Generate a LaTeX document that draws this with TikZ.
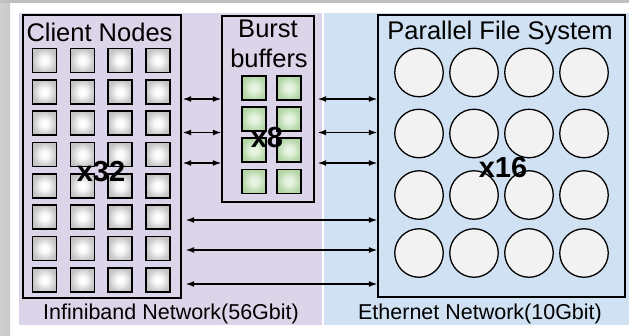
\documentclass[tikz,border=0pt]{standalone}
\usepackage{fontspec}
\setmainfont{Liberation Sans}
\usetikzlibrary{arrows.meta}

\definecolor{ibfill}{RGB}{220,212,232}
\definecolor{ethfill}{RGB}{207,225,242}
\definecolor{diskfill}{RGB}{242,242,242}
\definecolor{framegray}{RGB}{192,192,192}
\definecolor{shadowgray}{RGB}{208,208,208}

% soft glow inside the node squares
\pgfdeclareradialshading{cellglow}{\pgfpoint{0bp}{0bp}}{%
  rgb(0bp)=(1,1,1); rgb(8bp)=(0.98,0.98,0.98);
  rgb(25bp)=(0.77,0.77,0.77); rgb(50bp)=(0.77,0.77,0.77)}
\pgfdeclareradialshading{bbglow}{\pgfpoint{0bp}{0bp}}{%
  rgb(0bp)=(0.92,0.965,0.90); rgb(8bp)=(0.89,0.95,0.87);
  rgb(25bp)=(0.70,0.835,0.645); rgb(50bp)=(0.70,0.835,0.645)}

\begin{document}
\begin{tikzpicture}[x=1pt,y=-1pt,
  box/.style={draw=black, line width=1.3pt, inner sep=0pt},
  cell/.style={draw=black, line width=1.6pt, minimum size=24pt, inner sep=0pt,
               shading=cellglow},
  bbcell/.style={cell, shading=bbglow},
  disk/.style={circle, draw=black, line width=1.3pt, minimum size=48.5pt,
               inner sep=0pt, fill=diskfill},
  title/.style={font=\fontsize{25.5}{30}\selectfont, anchor=base, inner sep=0pt},
  net/.style={font=\fontsize{21.5}{26}\selectfont, anchor=base, inner sep=0pt},
  count/.style={font=\bfseries\fontsize{29}{33}\selectfont, anchor=base, inner sep=0pt},
  link/.style={line width=1.4pt, {Latex[length=8.5pt,width=6pt]}-{Latex[length=8.5pt,width=6pt]}}
]
\useasboundingbox (0,0) rectangle (629,335);

% page frame and shadow
\fill[white] (0,0) rectangle (629,335);
\fill[framegray] (0,0) rectangle (629,3);
\shade[left color=shadowgray, right color=framegray!85] (0,3) rectangle (10,335);

% network regions
\fill[ibfill] (19,13) rectangle (322,325);
\fill[ethfill] (324,13) rectangle (629,325);

% containers
\node[box, minimum width=158pt, minimum height=283pt] (client) at (102,156.5) {};
\node[box, minimum width=92pt, minimum height=186pt] (burst) at (268,109) {};
\node[box, minimum width=247pt, minimum height=282pt] (pfs) at (501.5,156) {};

% titles
\node[title] (tclient) at (99.5,41.5) {Client Nodes};
\node[title] (tburst) at (268,37) {Burst};
\node[title] (tbuf) at (269,67) {buffers};
\node[title] (tpfs) at (500,39.5) {Parallel File System};
\node[net] (tib) at (171,319) {Infiniband Network(56Gbit)};
\node[net] (teth) at (480,319) {Ethernet Network(10Gbit)};

% client nodes: 4 x 8
\foreach \i in {0,...,3}
  \foreach \j in {0,...,7}
    \node[cell] (c-\i-\j) at ({44.5+37.8*\i},{60.5+31.35*\j}) {};

% burst buffers: 2 x 4
\foreach \i in {0,1}
  \foreach \j in {0,...,3}
    \node[bbcell] (b-\i-\j) at ({254+35*\i},{88+31.1*\j}) {};

% storage servers: 4 x 4
\foreach \i in {0,...,3}
  \foreach \y [count=\j] in {72.5,133.5,195,253}
    \node[disk] (d-\i-\j) at ({419+55*\i},\y) {};

% counts
\node[count] (n32) at (101,181) {x32};
\node[count] (n8) at (267,147) {x8};
\node[count] (n16) at (503,177) {x16};

% connection rows
\coordinate (a1) at (0,99);
\coordinate (a2) at (0,132.5);
\coordinate (a3) at (0,163);
\coordinate (a4) at (0,220);
\coordinate (a5) at (0,250);
\coordinate (a6) at (0,284);

\foreach \r in {a1,a2,a3} {
  \draw[link, shorten <=1pt] (client.east |- \r) -- (burst.west |- \r);
  \draw[link, shorten <=3pt] (burst.east |- \r) -- (pfs.west |- \r);
}
\foreach \r in {a4,a5,a6}
  \draw[link, shorten <=4pt] (client.east |- \r) -- (pfs.west |- \r);
\end{tikzpicture}
\end{document}
